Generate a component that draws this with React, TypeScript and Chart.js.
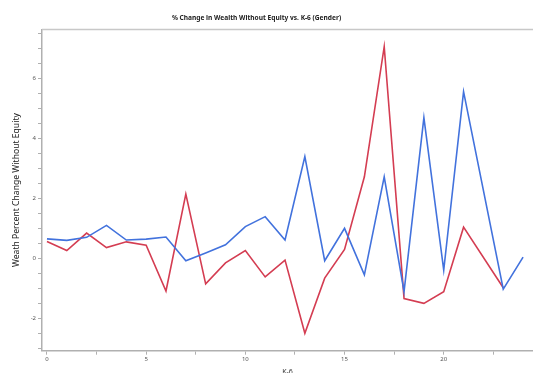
import React, { useEffect, useRef } from "react";
import { Chart, registerables } from "chart.js";

Chart.register(...registerables);

const kValues = [0, 1, 2, 3, 4, 5, 6, 7, 8, 9, 10, 11, 12, 13, 14, 15, 16, 17, 18, 19, 20, 21, 22, 23, 24];
const blueValues = [0.66, 0.61, 0.71, 1.11, 0.62, 0.65, 0.72, -0.07, 0.19, 0.46, 1.07, 1.4, 0.62, 3.4, -0.07, 1.01, -0.54, 2.73, -1.1, 4.7, -0.38, 5.57, null, -1.02, 0.05];
const redValues = [0.57, 0.27, 0.85, 0.37, 0.56, 0.45, -1.08, 2.15, -0.84, -0.14, 0.27, -0.61, -0.05, -2.49, -0.65, 0.31, 2.73, 7.07, -1.33, -1.49, -1.1, 1.05, null, -0.97, null];
const xTicks = [0, 2.5, 5, 7.5, 10, 12.5, 15, 17.5, 20, 22.5];
const xLabelTicks = [0, 5, 10, 15, 20];
const yTicks = [-3, -2.5, -2, -1.5, -1, -0.5, 0, 0.5, 1, 1.5, 2, 2.5, 3, 3.5, 4, 4.5, 5, 5.5, 6, 6.5, 7, 7.5];
const yLabelTicks = [-2, 0, 2, 4, 6];

const FONT = "'Noto Sans', 'Open Sans', sans-serif";

const topBorder = {
  id: "topBorder",
  afterDraw(chart: any) {
    const { ctx, chartArea } = chart;
    ctx.save();
    ctx.strokeStyle = "#c8c8c8";
    ctx.lineWidth = 1.5;
    ctx.beginPath();
    ctx.moveTo(chartArea.left, chartArea.top);
    ctx.lineTo(chartArea.right, chartArea.top);
    ctx.stroke();
    ctx.restore();
  },
};

export default function App() {
  const ref = useRef<HTMLCanvasElement>(null);
  useEffect(() => {
    document.body.style.margin = "0";
    document.body.style.overflow = "hidden";
    const chart = new Chart(ref.current!, {
      type: "line",
      data: {
        datasets: [
          {
            label: "Male",
            data: kValues.map((k, i) => ({ x: k, y: blueValues[i] })) as any,
            borderColor: "#4272dd",
            borderWidth: 1.6,
            pointRadius: 0,
            spanGaps: true,
            tension: 0,
          },
          {
            label: "Female",
            data: kValues.map((k, i) => ({ x: k, y: redValues[i] })) as any,
            borderColor: "#d43d52",
            borderWidth: 1.6,
            pointRadius: 0,
            spanGaps: true,
            tension: 0,
          },
        ],
      },
      options: {
        animation: false,
        responsive: false,
        maintainAspectRatio: false,
        layout: { padding: 0 },
        plugins: {
          legend: { display: false },
          tooltip: { enabled: false },
          title: {
            display: true,
            text: "% Change in Wealth Without Equity vs. K-6 (Gender)",
            font: { family: FONT, size: 6.6, weight: "bold" },
            color: "#222",
            padding: { top: 14.5, bottom: 7.1 },
          },
        },
        scales: {
          x: {
            type: "linear",
            min: -0.25,
            max: 24.5,
            afterBuildTicks: (s: any) => {
              s.ticks = xTicks.map((v) => ({ value: v }));
            },
            afterFit: (s: any) => {
              s.height = 34.3;
            },
            grid: { drawOnChartArea: false, drawTicks: true, tickLength: 4, color: "#b0b0b0" },
            border: { color: "#b0b0b0", width: 1.5 },
            ticks: {
              autoSkip: false,
              maxRotation: 0,
              padding: 1,
              font: { family: FONT, size: 6 },
              color: "#555",
              callback: (v: any) => (xLabelTicks.includes(Number(v)) ? String(v) : ""),
            },
            title: {
              display: true,
              text: "K-6",
              font: { family: FONT, size: 7 },
              color: "#333",
              padding: { top: 0, bottom: 9 },
            },
          },
          y: {
            type: "linear",
            min: -3.07,
            max: 7.64,
            afterBuildTicks: (s: any) => {
              s.ticks = yTicks.map((v) => ({ value: v }));
            },
            afterFit: (s: any) => {
              s.width = 62;
            },
            grid: { drawOnChartArea: false, drawTicks: true, tickLength: 4, color: "#b0b0b0" },
            border: { color: "#b0b0b0", width: 1.5 },
            ticks: {
              autoSkip: false,
              padding: 2,
              font: { family: FONT, size: 6 },
              color: "#555",
              callback: (v: any) => (yLabelTicks.includes(Number(v)) ? String(v) : ""),
            },
            title: {
              display: true,
              text: "Weath Percent Change Without Equity",
              font: { family: FONT, size: 8.6 },
              color: "#222",
              padding: { top: 31, bottom: 0 },
            },
          },
        },
      },
      plugins: [topBorder],
    });
    return () => chart.destroy();
  }, []);
  return (
    <div style={{ position: "fixed", left: -20, top: 0, width: 553, height: 385, overflow: "hidden", background: "#fff" }}>
      <canvas ref={ref} width={553} height={385} style={{ display: "block" }} />
    </div>
  );
}
